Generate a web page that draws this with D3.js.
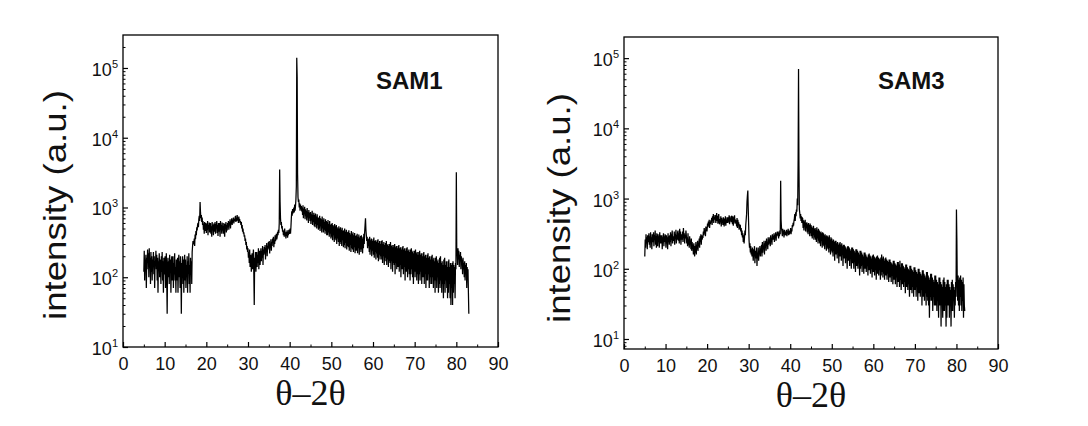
<!DOCTYPE html>
<html><head><meta charset="utf-8">
<script src="https://cdn.jsdelivr.net/npm/d3@7"></script>
<style>body{margin:0;background:#fff}svg{display:block}</style>
</head><body>
<svg id="c" width="1088" height="426"></svg>
<script>
// ---- data, 2θ from 5° in 0.1° steps, one row per degree ----
const startAngle = 5, stepAngle = 0.1;
const sam1 = [
120,240,90,180,150,210,70,190,130,250,
160,220,100,260,140,190,80,230,120,200,
90,180,140,230,110,200,70,170,150,240,
130,210,90,190,60,170,140,220,100,180,
150,80,200,120,230,90,170,60,190,130,
110,200,70,160,220,90,30,150,190,100,
170,80,210,120,180,60,150,200,90,170,
200,70,160,110,220,90,140,60,180,120,
90,190,60,150,210,100,170,70,200,130,
30,160,110,200,80,180,60,150,210,90,
180,70,150,100,200,60,170,120,220,80,
150,60,190,110,170,80,230,280,330,300,
300,360,280,410,350,460,400,520,470,560,
600,520,680,760,640,1200,850,700,780,620,
720,560,640,480,590,420,620,520,460,600,
430,580,480,640,400,560,500,610,440,530,
600,420,540,380,620,470,560,400,590,450,
480,620,420,580,500,640,430,560,390,600,
450,600,510,380,640,480,560,420,610,470,
540,420,600,460,380,580,500,620,440,560,
470,600,520,640,480,620,560,680,500,630,
580,700,560,660,620,720,590,680,640,710,
760,620,700,640,780,660,720,600,740,650,
680,600,640,560,620,500,560,450,500,420,
440,380,400,330,360,290,320,250,280,230,
260,190,230,160,250,140,210,180,120,200,
220,130,180,250,110,40,190,150,230,120,
170,230,140,210,160,260,130,200,240,150,
200,260,170,240,190,280,150,250,210,270,
220,290,180,260,230,310,200,280,250,320,
260,330,220,300,270,350,240,320,280,360,
310,380,270,340,300,400,330,360,420,350,
380,450,400,480,430,600,3500,1200,700,560,
620,500,540,450,480,400,460,380,500,420,
420,360,450,390,470,370,440,400,480,420,
450,500,420,520,700,880,760,950,820,900,
1000,850,1100,900,1050,1300,2000,140000,75000,3000,
1400,1200,1300,1000,1150,900,1100,950,1050,880,
1000,780,1080,700,960,820,1020,680,940,760,
900,650,980,720,860,600,920,700,840,640,
860,580,800,650,900,560,780,620,840,540,
780,520,820,580,740,500,800,560,720,480,
720,500,760,460,700,540,680,440,740,500,
660,440,700,480,620,420,680,460,640,400,
620,400,660,440,580,380,640,420,560,360,
580,380,600,340,560,400,540,320,580,360,
540,340,560,300,520,360,500,320,540,280,
500,320,520,300,480,280,510,340,460,270,
470,290,500,260,450,310,480,250,440,280,
450,270,470,240,430,290,410,230,460,260,
420,250,440,230,400,270,430,220,390,240,
400,240,420,220,380,260,410,210,370,250,
390,230,400,250,360,220,380,260,420,300,
450,560,700,480,400,330,380,260,350,280,
360,230,380,210,340,250,360,200,330,240,
350,210,370,190,330,230,340,180,320,220,
340,190,350,170,310,210,330,180,300,200,
330,180,340,160,300,200,320,150,290,190,
310,170,330,150,290,180,300,140,280,170,
300,160,320,130,280,170,290,120,270,160,
290,150,300,110,270,160,280,130,260,140,
280,140,290,120,260,150,270,100,250,130,
270,130,280,110,250,140,260,90,240,120,
260,120,270,100,240,130,250,110,230,90,
250,110,260,130,230,100,240,80,220,120,
240,100,250,120,220,90,230,110,210,80,
230,110,240,90,210,120,220,80,200,100,
220,100,230,80,200,110,210,70,190,90,
210,90,220,110,190,70,200,100,180,80,
200,80,210,100,180,70,190,90,170,60,
190,90,200,70,170,100,180,60,160,80,
190,70,200,90,160,60,170,80,150,50,
180,80,190,60,150,90,170,70,140,50,
170,60,180,80,140,50,160,40,150,70,
160,40,170,60,150,80,140,50,160,130,
3200,260,220,150,260,180,240,140,210,170,
230,130,200,150,180,110,190,140,160,100,
170,90,150,120,160,70,140,100,130,60,
30
];
const sam3 = [
150,260,200,310,230,280,190,300,240,270,
320,220,290,200,330,240,280,190,310,250,
240,330,210,300,260,350,220,290,200,320,
280,210,310,250,290,200,330,230,300,260,
230,300,190,280,250,320,210,290,240,310,
260,200,300,230,280,190,320,240,290,220,
300,240,330,210,310,260,350,230,290,270,
250,340,220,310,270,360,230,300,260,330,
350,250,320,230,370,260,340,220,310,280,
260,340,240,380,280,320,230,300,270,350,
300,230,280,210,320,220,260,200,290,230,
250,190,270,180,240,200,220,160,230,180,
150,210,170,240,160,220,190,250,180,230,
220,270,200,290,240,310,220,300,260,280,
280,340,300,380,320,360,290,400,340,370,
360,440,390,470,410,500,380,460,430,490,
460,530,420,560,480,600,450,540,500,580,
560,450,530,620,480,570,440,540,600,470,
430,510,460,560,400,530,470,500,420,540,
480,400,520,430,560,410,500,450,540,470,
450,540,470,580,430,560,490,520,460,570,
520,430,560,410,540,470,580,440,500,480,
470,400,530,380,500,420,460,360,430,390,
400,340,380,300,350,280,320,240,300,230,
280,350,300,420,500,600,900,1100,1300,700,
420,250,200,230,170,210,160,190,150,200,
170,130,190,150,210,120,180,160,140,200,
110,170,140,200,130,180,160,210,150,190,
180,220,150,240,170,210,190,250,160,230,
200,250,180,270,210,240,190,280,220,260,
230,280,210,300,250,270,220,310,260,290,
260,320,240,300,280,330,250,310,290,340,
300,340,270,320,290,350,310,1800,500,380,
340,290,370,310,350,280,360,320,300,340,
300,360,290,340,320,370,300,350,310,330,
330,380,310,360,340,420,390,450,410,480,
520,600,480,640,560,700,650,1000,800,3500,
70000,3000,700,620,520,600,480,560,450,530,
520,380,490,350,470,400,500,340,450,380,
460,330,430,310,450,340,420,290,440,320,
420,290,400,270,380,300,410,260,370,280,
380,260,360,240,390,270,350,230,370,250,
350,230,330,210,340,250,320,200,330,220,
320,210,300,190,310,220,290,180,300,200,
290,190,280,170,300,200,260,160,280,180,
270,170,250,150,260,180,240,130,250,160,
250,160,230,140,240,170,220,120,230,150,
240,150,220,130,230,160,210,110,220,140,
220,140,210,120,200,150,190,100,210,130,
210,130,200,110,190,140,180,100,200,120,
200,120,190,100,180,130,170,90,190,110,
190,110,180,100,170,120,160,80,180,100,
180,110,170,90,160,120,150,85,170,100,
170,100,160,90,150,110,145,80,160,95,
165,95,155,85,150,100,140,75,155,90,
160,90,150,80,145,95,140,70,150,85,
155,85,145,80,140,95,135,70,145,80,
160,90,140,75,150,85,130,70,140,80,
145,80,135,70,130,85,125,65,135,75,
135,75,125,65,120,80,115,60,130,70,
130,70,120,60,115,75,110,55,125,65,
125,65,115,55,130,70,105,50,120,60,
120,60,110,55,105,65,100,45,115,55,
115,55,105,50,100,60,95,40,110,50,
110,50,100,45,95,55,90,40,105,50,
105,50,95,40,90,55,85,35,100,45,
100,45,90,40,85,50,80,30,95,40,
95,40,85,35,80,45,75,30,90,40,
90,35,80,30,75,20,70,40,85,35,
85,35,75,25,70,40,65,30,80,30,
80,30,70,25,65,35,60,20,75,30,
75,30,65,15,60,35,55,20,70,25,
75,25,65,30,55,15,60,20,70,30,
70,30,60,20,55,35,50,15,65,25,
70,25,60,35,55,20,50,30,65,40,
700,270,60,35,80,30,70,25,75,40,
80,30,70,25,65,35,75,20,60,30,
25
];
const xTicks = [0,10,20,30,40,50,60,70,80,90];
const xMinor = [5,15,25,35,45,55,65,75,85];
const yDecades = [1,2,3,4,5];
const panelTitles = ["SAM1","SAM3"];
const xTitle = "θ–2θ";
const yTitle = "intensity (a.u.)";

// ---- layout ----
const panels = [
  {data: sam1, title: panelTitles[0], L:123, R:498, T:35, B:347, yDom:[10, 297000], titleX:376, titleY:89, yTitleX:66, yTitleY:205, xTitleY:405},
  {data: sam3, title: panelTitles[1], L:624, R:998, T:37, B:349, yDom:[7.2, 200000], titleX:878, titleY:89, yTitleX:570, yTitleY:208, xTitleY:407}
];
const svg = d3.select("#c");

panels.forEach(p => {
  const g = svg.append("g");
  const x = d3.scaleLinear().domain([0,90]).range([p.L, p.R]);
  const y = d3.scaleLog().domain(p.yDom).range([p.B, p.T]);
  const pts = p.data.map((v,i) => [startAngle + i*stepAngle, v]);

  // data line
  g.append("path").datum(pts)
    .attr("fill","none").attr("stroke","#000").attr("stroke-width",1.25)
    .attr("stroke-linejoin","miter")
    .attr("d", d3.line().x(d=>x(d[0])).y(d=>y(d[1])));

  // x axis ticks (inward)
  const xa = g.append("g").attr("transform",`translate(0,${p.B})`)
    .call(d3.axisBottom(x).tickValues(xTicks).tickSize(-5).tickPadding(10).tickFormat(d3.format("d")));
  xa.select(".domain").remove();
  xa.selectAll("line").attr("stroke","#000").attr("stroke-width",1.2);
  xa.selectAll("text").attr("font-family","Arial, 'Liberation Sans', sans-serif").attr("font-size",18).attr("fill","#111");
  const xm = g.append("g").attr("transform",`translate(0,${p.B})`)
    .call(d3.axisBottom(x).tickValues(xMinor).tickSize(-2.5).tickFormat(""));
  xm.select(".domain").remove();
  xm.selectAll("line").attr("stroke","#000");

  // y axis ticks (inward), major + minor
  const majors = yDecades.map(e => Math.pow(10,e)).filter(v => v>=p.yDom[0] && v<=p.yDom[1]);
  const minors = [];
  for (let e=0;e<=5;e++) for (let k=2;k<=9;k++){ const v=k*Math.pow(10,e); if (v>p.yDom[0] && v<p.yDom[1]) minors.push(v); }
  const ya = g.append("g").attr("transform",`translate(${p.L},0)`)
    .call(d3.axisLeft(y).tickValues(majors).tickSize(-5).tickFormat(""));
  ya.select(".domain").remove();
  ya.selectAll("line").attr("stroke","#000").attr("stroke-width",1.2);
  const ym = g.append("g").attr("transform",`translate(${p.L},0)`)
    .call(d3.axisLeft(y).tickValues(minors).tickSize(-2.5).tickFormat(""));
  ym.select(".domain").remove();
  ym.selectAll("line").attr("stroke","#000");

  // y tick labels 10^n
  majors.forEach(v => {
    const t = g.append("text").attr("x", p.L-5).attr("y", y(v)+8)
      .attr("text-anchor","end").attr("font-family","Arial, 'Liberation Sans', sans-serif")
      .attr("font-size",18).attr("fill","#111");
    t.append("tspan").text("10");
    t.append("tspan").attr("dy",-8).attr("font-size",11).text(Math.round(Math.log10(v)));
  });

  // frame
  g.append("rect").attr("x",p.L).attr("y",p.T).attr("width",p.R-p.L).attr("height",p.B-p.T)
    .attr("fill","none").attr("stroke","#000").attr("stroke-width",1.3);

  // panel title
  g.append("text").attr("x",p.titleX).attr("y",p.titleY)
    .attr("font-family","Arial, 'Liberation Sans', sans-serif").attr("font-weight","bold")
    .attr("font-size",24).attr("fill","#111").text(p.title);

  // axis titles
  g.append("text").attr("x",(p.L+p.R)/2).attr("y",p.xTitleY).attr("text-anchor","middle")
    .attr("font-family","'Times New Roman', 'Liberation Serif', serif").attr("font-size",36)
    .attr("fill","#111").text(xTitle);
  g.append("text").attr("transform",`translate(${p.yTitleX},${p.yTitleY}) rotate(-90)`)
    .attr("text-anchor","middle").attr("font-family","Arial, 'Liberation Sans', sans-serif")
    .attr("font-size",31).attr("textLength",230).attr("lengthAdjust","spacingAndGlyphs")
    .attr("fill","#111").text(yTitle);
});
</script>
</body></html>
